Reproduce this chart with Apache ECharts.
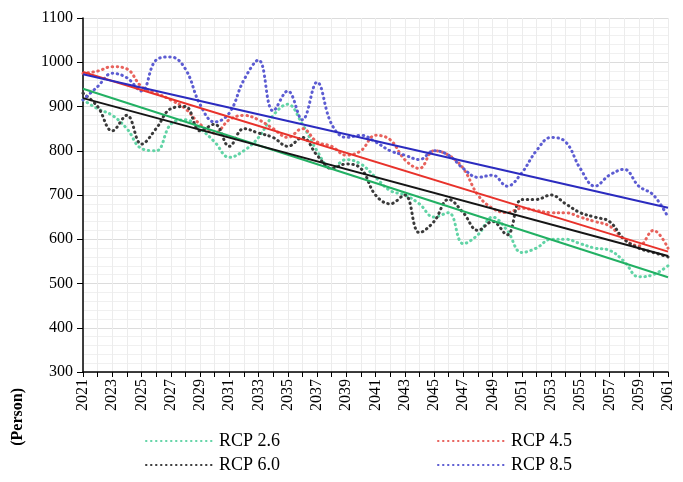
<!DOCTYPE html>
<html>
<head>
<meta charset="utf-8">
<script src="https://cdn.jsdelivr.net/npm/echarts@6/dist/echarts.min.js"></script>
<style>
  html, body { margin: 0; padding: 0; background: #fff; }
  #chart { width: 683px; height: 482px; }
</style>
</head>
<body>
<div id="chart"></div>
<script>
// years on the x axis
let years = []
for (let y = 2021; y <= 2061; y++) years.push(String(y))

// yearly values
let rcp26 = [915, 895, 880, 850, 805, 800, 860, 870, 850, 820, 785, 800, 830, 880, 905, 860, 800, 760, 780, 770,
             740, 710, 700, 680, 650, 660, 590, 610, 650, 620, 570, 580, 600, 600, 590, 580, 575, 550, 515, 520, 540]
let rcp45 = [975, 980, 990, 985, 945, 930, 915, 895, 860, 840, 870, 880, 870, 850, 830, 850, 820, 810, 790, 800,
             835, 825, 780, 760, 800, 790, 760, 700, 670, 660, 670, 665, 660, 660, 650, 640, 630, 600, 585, 620, 580]
let rcp60 = [930, 900, 845, 880, 815, 850, 895, 900, 845, 860, 810, 850, 840, 830, 810, 830, 790, 760, 770, 760,
             700, 680, 700, 615, 640, 690, 660, 620, 640, 610, 690, 690, 700, 680, 660, 650, 640, 600, 580, 570, 560]
let rcp85 = [915, 945, 975, 965, 935, 1005, 1012, 985, 905, 865, 885, 960, 1005, 890, 935, 870, 955, 860, 830, 835,
             820, 800, 790, 780, 800, 790, 760, 740, 745, 720, 750, 800, 830, 820, 760, 720, 745, 758, 720, 700, 650]

// linear trend line ends (2021, 2061)
let trend26 = [940, 514]
let trend45 = [978, 572]
let trend60 = [919, 562]
let trend85 = [973, 671]

let names = ['RCP 2.6', 'RCP 4.5', 'RCP 6.0', 'RCP 8.5']
let dotColors = ['#62d4a6', '#e8625c', '#3a3a3a', '#5c5cd2']
let lineColors = ['#22b063', '#e8322b', '#151515', '#2b2bbf']
let values = [rcp26, rcp45, rcp60, rcp85]
let trends = [trend26, trend45, trend60, trend85]

let series = []
names.forEach((name, i) => {
    series.push({
        name: name,
        type: 'line',
        data: values[i],
        smooth: 0.4,
        symbol: 'none',
        lineStyle: { color: dotColors[i], width: 3, type: [0.5, 4.5], cap: 'round' },
        itemStyle: { color: dotColors[i] },
        z: 2
    })
})
names.forEach((name, i) => {
    series.push({
        name: name + ' trend',
        type: 'line',
        data: [[years[0], trends[i][0]], [years[years.length - 1], trends[i][1]]],
        symbol: 'none',
        lineStyle: { color: lineColors[i], width: 2 },
        z: 3
    })
})

let myChart = echarts.init(document.getElementById('chart'))
let serif = 'Liberation Serif'
let legendBase = {
    orient: 'vertical',
    top: 427,
    itemWidth: 68, itemHeight: 10, itemGap: 6,
    itemStyle: { opacity: 0 },
    textStyle: { fontFamily: serif, fontSize: 18, color: '#000' }
}
let option = {
    animation: false,
    grid: { left: 83, right: 15, top: 18, bottom: 110 },
    legend: [
        Object.assign({ data: ['RCP 2.6', 'RCP 6.0'], left: 140 }, legendBase),
        Object.assign({ data: ['RCP 4.5', 'RCP 8.5'], left: 432 }, legendBase)
    ],
    xAxis: {
        type: 'category',
        data: years,
        boundaryGap: false,
        axisLine: { lineStyle: { color: '#000', width: 1.5 } },
        axisTick: { show: true, interval: 0, length: 5, lineStyle: { color: '#000' } },
        axisLabel: { interval: 1, rotate: 90, fontFamily: serif, fontSize: 16, color: '#000', margin: 7 },
        splitLine: { show: true, interval: 0, lineStyle: { color: '#ececec', width: 1 } }
    },
    yAxis: {
        type: 'value',
        min: 300, max: 1100, interval: 100,
        axisLine: { show: true, lineStyle: { color: '#000', width: 1.5 } },
        axisTick: { show: true, length: 6, lineStyle: { color: '#000' } },
        axisLabel: { fontFamily: serif, fontSize: 16, color: '#000', margin: 10, formatter: v => String(v) },
        splitLine: { lineStyle: { color: '#dcdcdc', width: 1 } },
        minorSplitLine: { show: true, lineStyle: { color: '#f0f0f0' } },
        minorTick: { show: false, splitNumber: 5 }
    },
    graphic: [
        {
            type: 'text',
            left: 10, top: 388,
            rotation: Math.PI / 2,
            style: { text: '(Person)', font: 'bold 16px "Liberation Serif"', fill: '#000' }
        }
    ],
    series: series
}
myChart.setOption(option)
</script>
</body>
</html>
